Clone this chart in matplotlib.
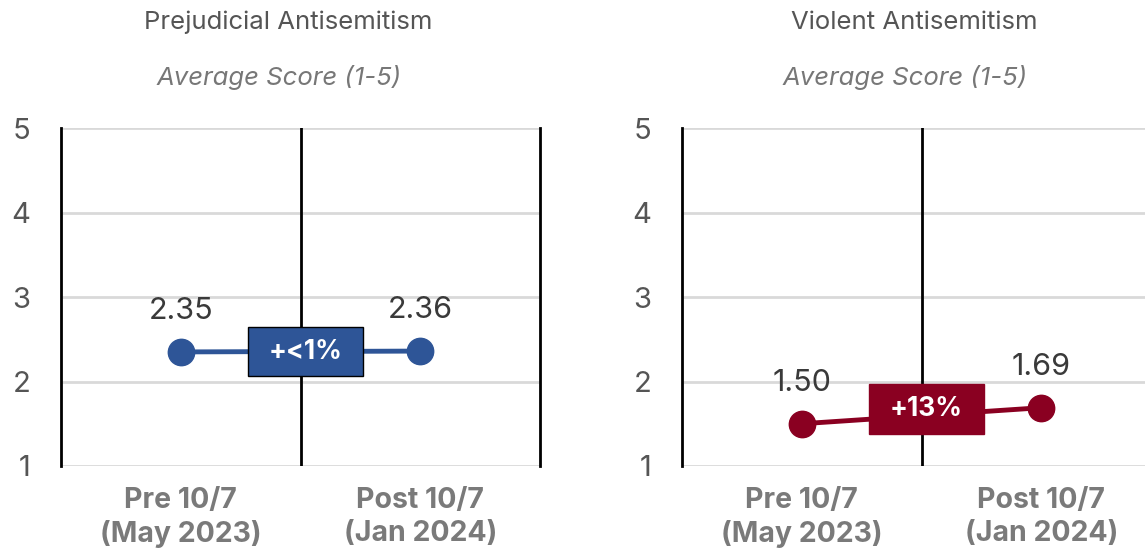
import matplotlib.pyplot as plt
from matplotlib.patches import Rectangle

# data
periods = ['Pre 10/7\n(May 2023)', 'Post 10/7\n(Jan 2024)']
titles = ['Prejudicial Antisemitism', 'Violent Antisemitism']
prejudicial = [2.35, 2.36]
violent = [1.50, 1.69]
changes = ['+<1%', '+13%']
colors = ['#2E5597', '#8A0021']
yticks = [1, 2, 3, 4, 5]

plt.rcParams['font.family'] = ['Inter', 'DejaVu Sans']

fig = plt.figure(figsize=(11.45, 5.5), dpi=100)
ax_l = fig.add_axes([61 / 1145, 84 / 550, 479 / 1145, 338 / 550])
ax_r = fig.add_axes([682 / 1145, 84 / 550, 479 / 1145, 338 / 550])

series = [prejudicial, violent]
box_shift = [0.0, 0.08]
title_x = [0.475, 0.485]

for i, ax in enumerate([ax_l, ax_r]):
    vals = series[i]
    xs = range(len(vals))
    ax.set_xlim(-0.5, 1.5)
    ax.set_ylim(1, 5)
    ax.set_yticks(yticks)
    ax.set_yticklabels([str(t) for t in yticks], fontsize=21, color='#555555')
    ax.set_xticks(list(xs))
    ax.set_xticklabels(periods, fontsize=20.5, fontweight='bold', color='#7a7a7a',
                       linespacing=1.3)
    ax.tick_params(axis='y', length=0, pad=22)
    ax.tick_params(axis='x', length=0, pad=15)
    ax.grid(axis='y', color='#d9d9d9', linewidth=2, zorder=0)
    ax.set_axisbelow(True)
    for s in ['top', 'bottom']:
        ax.spines[s].set_visible(False)
    for s in ['left', 'right']:
        ax.spines[s].set_color('black')
        ax.spines[s].set_linewidth(2)
    ax.axvline(0.5, color='black', linewidth=2, zorder=1)

    ax.plot(list(xs), vals, color=colors[i], linewidth=3.5, marker='o',
            markersize=19, zorder=3)
    for x, v in zip(xs, vals):
        ax.text(x, v + 0.32, f'{v:.2f}', ha='center', va='bottom',
                fontsize=22, color='#3a3a3a', zorder=4)

    mid = sum(vals) / len(vals) + box_shift[i]
    bw, bh = 0.48, 0.59
    ax.add_patch(Rectangle((0.5 - bw / 2 + 0.02, mid - bh / 2), bw, bh,
                           facecolor=colors[i], edgecolor='black' if i == 0 else colors[i],
                           linewidth=1, zorder=5))
    ax.text(0.52, mid, changes[i], ha='center', va='center', fontsize=19,
            fontweight='bold', color='white', zorder=6)

    ax.text(title_x[i], 1.313, titles[i], transform=ax.transAxes, ha='center',
            va='center', fontsize=18.5, color='#555555')
    ax.text(title_x[i] - 0.02, 1.148, 'Average Score (1-5)', transform=ax.transAxes,
            ha='center', va='center', fontsize=18.5, style='italic', color='#777777')

fig.savefig('out.png', dpi=100)
